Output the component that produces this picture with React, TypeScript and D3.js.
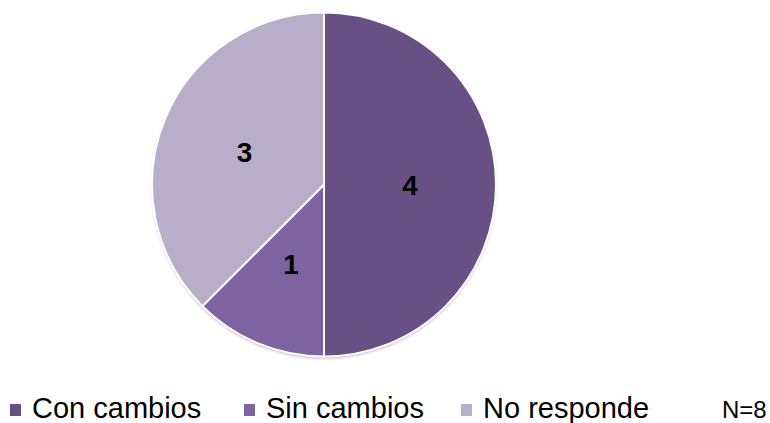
import React from "react";
import * as d3 from "d3";

const categories = ["Con cambios", "Sin cambios", "No responde"];
const values = [4, 1, 3];
const colors = ["#684f86", "#7f62a0", "#b9aec9"];
const note = "N=8";

export default function App() {
  const width = 770;
  const height = 423;
  const cx = 324;
  const cy = 184.5;
  const r = 172;
  const pie = d3.pie<number>().sort(null).value((d) => d)(values);
  const arc = d3.arc<d3.PieArcDatum<number>>().innerRadius(0).outerRadius(r);
  const legendX = [10, 244, 461];
  return (
    <svg
      width={width}
      height={height}
      style={{ position: "absolute", left: 0, top: 0, background: "#fff" }}
      fontFamily="'Liberation Sans', Arial, sans-serif"
    >
      <defs>
        <filter id="sh" x="-10%" y="-10%" width="120%" height="120%">
          <feDropShadow dx="0" dy="2" stdDeviation="1.5" floodColor="#000" floodOpacity="0.25" />
        </filter>
      </defs>
      <g transform={`translate(${cx},${cy})`}>
        <circle r={r} fill="#fff" filter="url(#sh)" />
        {pie.map((p, i) => (
          <path key={i} d={arc(p) || ""} fill={colors[i]} stroke="#fff" strokeWidth={2} />
        ))}
        {pie.map((p, i) => {
          const [x, y] = arc.centroid(p);
          return (
            <text
              key={"t" + i}
              x={x}
              y={y}
              dy="0.36em"
              textAnchor="middle"
              fontSize={28}
              fontWeight="bold"
              fill="#000"
            >
              {values[i]}
            </text>
          );
        })}
      </g>
      {categories.map((c, i) => (
        <g key={"l" + i}>
          <rect x={legendX[i]} y={404} width={11} height={12} fill={colors[i]} />
          <text x={legendX[i] + 22} y={418} fontSize={29} fill="#000">
            {c}
          </text>
        </g>
      ))}
      <text x={722} y={418} fontSize={24} fill="#000">
        {note}
      </text>
    </svg>
  );
}
